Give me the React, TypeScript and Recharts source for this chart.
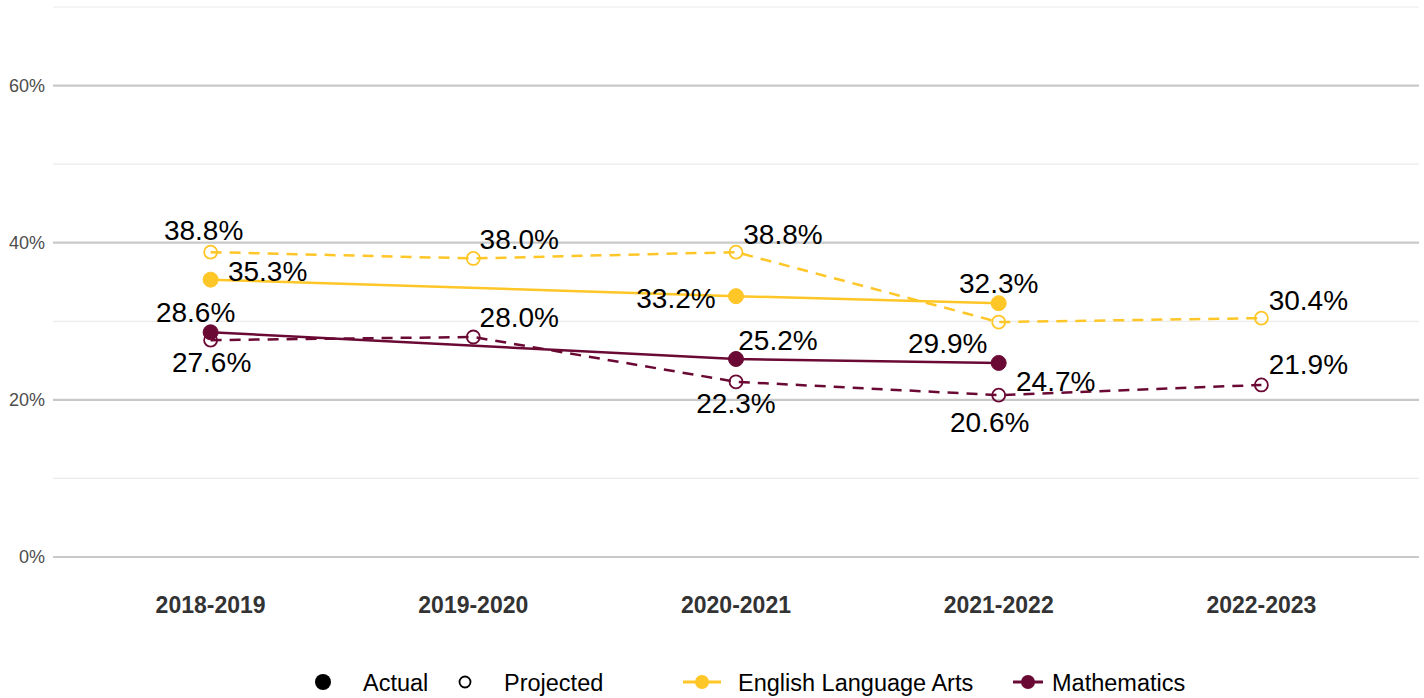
import { LineChart, Line, XAxis, YAxis, ReferenceLine } from 'recharts'

const YEARS = ['2018-2019', '2019-2020', '2020-2021', '2021-2022', '2022-2023']
const ELA_ACTUAL = [35.3, null, 33.2, 32.3, null]
const ELA_PROJECTED = [38.8, 38.0, 38.8, 29.9, 30.4]
const MATH_ACTUAL = [28.6, null, 25.2, 24.7, null]
const MATH_PROJECTED = [27.6, 28.0, 22.3, 20.6, 21.9]
const Y_TICKS = [0, 20, 40, 60]
const MINOR_LINES = [10, 30, 50, 70]

// label nudges (dx, dy from the point), a bit like ggrepel placed them
const NUDGE_ELA_ACTUAL = [[57, -8], [0, 0], [-60, 2], [0, -20], [0, 0]]
const NUDGE_ELA_PROJECTED = [[-7, -22], [46, -19], [47, -18], [-51, 21], [47, -18]]
const NUDGE_MATH_ACTUAL = [[-15, -20], [0, 0], [42, -19], [57, 19], [0, 0]]
const NUDGE_MATH_PROJECTED = [[1, 22], [46, -20], [0, 22], [-9, 27], [47, -20]]

const GOLD = '#FFC627'
const MAROON = '#6A0A34'
const FONT = '"Liberation Sans", Arial, Helvetica, sans-serif'

const rows = YEARS.map((_, i) => ({
  x: i + 1,
  elaActual: ELA_ACTUAL[i],
  elaProjected: ELA_PROJECTED[i],
  mathActual: MATH_ACTUAL[i],
  mathProjected: MATH_PROJECTED[i],
}))

function makeLabel(nudges: number[][]) {
  return (props: any) => {
    const { x, y, value, index } = props
    if (value == null || x == null || y == null) return <g key={`e-${index}`} />
    const [dx, dy] = nudges[index] || [0, 0]
    return (
      <text
        key={`l-${index}`}
        x={x + dx}
        y={y + dy}
        textAnchor="middle"
        dominantBaseline="central"
        fontSize={28}
        style={{ fontFamily: FONT, fontSize: '28px', fill: '#000', stroke: 'none' }}
      >
        {Number(value).toFixed(1)}%
      </text>
    )
  }
}

function BottomLegend() {
  const txt = { fontFamily: FONT, fontSize: 23.5, fill: '#000', dominantBaseline: 'central' as const }
  return (
    <svg width={1424} height={40} style={{ position: 'absolute', left: 0, top: 662 }}>
      <circle cx={323} cy={20} r={8} fill="#000" />
      <text x={363} y={21} {...txt}>Actual</text>
      <circle cx={465} cy={20} r={5.5} fill="none" stroke="#000" strokeWidth={1.8} />
      <text x={504} y={21} {...txt}>Projected</text>
      <line x1={683} x2={721} y1={20} y2={20} stroke={GOLD} strokeWidth={3} />
      <circle cx={702} cy={20} r={7} fill={GOLD} />
      <text x={738} y={21} {...txt}>English Language Arts</text>
      <line x1={1013} x2={1043} y1={20} y2={20} stroke={MAROON} strokeWidth={3} />
      <circle cx={1028} cy={20} r={7} fill={MAROON} />
      <text x={1052} y={21} {...txt}>Mathematics</text>
    </svg>
  )
}

const openDot = (color: string) => ({ r: 6.5, fill: 'none', stroke: color, strokeWidth: 1.8, strokeDasharray: 'none' })
const solidDot = (color: string) => ({ r: 7.5, fill: color, stroke: color, strokeWidth: 1 })

export default function App() {
  return (
    <div style={{ position: 'absolute', left: 0, top: 0, width: 1424, height: 698, background: '#fff' }}>
      <LineChart width={1424} height={698} data={rows} margin={{ top: 7, right: 5, left: 0, bottom: 78 }}>
        {MINOR_LINES.map((v) => (
          <ReferenceLine key={`m${v}`} y={v} stroke="#ebebeb" strokeWidth={1.2} ifOverflow="visible" />
        ))}
        {Y_TICKS.map((v) => (
          <ReferenceLine key={`M${v}`} y={v} stroke="#c9c9c9" strokeWidth={2.2} ifOverflow="visible" />
        ))}
        <XAxis
          dataKey="x"
          type="number"
          domain={[0.4, 5.6]}
          ticks={[1, 2, 3, 4, 5]}
          allowDataOverflow
          tickFormatter={(v) => YEARS[v - 1]}
          axisLine={false}
          tickLine={false}
          tickSize={0}
          tickMargin={40}
          height={63}
          tick={{ fill: '#333', fontSize: 23, fontWeight: 'bold', fontFamily: FONT }}
        />
        <YAxis
          type="number"
          domain={[0, 70]}
          ticks={Y_TICKS}
          allowDataOverflow
          tickFormatter={(v) => `${v}%`}
          axisLine={false}
          tickLine={false}
          tickSize={0}
          tickMargin={8}
          width={53}
          tick={{ fill: '#4d4d4d', fontSize: 18, fontFamily: FONT }}
        />
        <Line
          dataKey="elaProjected"
          stroke={GOLD}
          strokeWidth={2.5}
          strokeDasharray="11 8"
          dot={openDot(GOLD)}
          activeDot={false}
          label={makeLabel(NUDGE_ELA_PROJECTED)}
          isAnimationActive={false}
        />
        <Line
          dataKey="elaActual"
          stroke={GOLD}
          strokeWidth={2.5}
          connectNulls
          dot={solidDot(GOLD)}
          activeDot={false}
          label={makeLabel(NUDGE_ELA_ACTUAL)}
          isAnimationActive={false}
        />
        <Line
          dataKey="mathProjected"
          stroke={MAROON}
          strokeWidth={2.5}
          strokeDasharray="11 8"
          dot={openDot(MAROON)}
          activeDot={false}
          label={makeLabel(NUDGE_MATH_PROJECTED)}
          isAnimationActive={false}
        />
        <Line
          dataKey="mathActual"
          stroke={MAROON}
          strokeWidth={2.5}
          connectNulls
          dot={solidDot(MAROON)}
          activeDot={false}
          label={makeLabel(NUDGE_MATH_ACTUAL)}
          isAnimationActive={false}
        />
      </LineChart>
      <BottomLegend />
    </div>
  )
}
